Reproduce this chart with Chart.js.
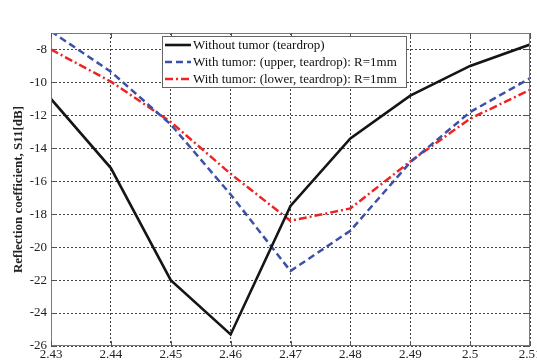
<!DOCTYPE html>
<html>
<head>
<meta charset="utf-8">
<script src="https://cdn.jsdelivr.net/npm/chart.js@4/dist/chart.umd.min.js"></script>
<style>
  html, body { margin: 0; padding: 0; background: #fff; }
  #wrap { width: 537px; height: 360px; overflow: hidden; position: relative; }
  #wrap canvas { position: absolute; left: 0; top: 0; }
</style>
</head>
<body>
<div id="wrap"><canvas id="chart" width="548" height="368"></canvas></div>
<script>
// frequency (GHz)
const freqs = [2.43, 2.44, 2.45, 2.46, 2.47, 2.48, 2.49, 2.50, 2.51];
const xTickLabels = ['2.43', '2.44', '2.45', '2.46', '2.47', '2.48', '2.49', '2.5', '2.51'];
const yTicks = [-26, -24, -22, -20, -18, -16, -14, -12, -10, -8];

// S11 [dB]
const noTumor = [-11.0, -15.2, -22.0, -25.3, -17.5, -13.4, -10.8, -9.0, -7.7];
const upperTumor = [-6.9, -9.35, -12.55, -16.8, -21.45, -19.0, -14.85, -11.8, -9.75];
const lowerTumor = [-8.0, -9.95, -12.4, -15.55, -18.4, -17.65, -14.8, -12.2, -10.45];

const seriesNames = [
  'Without tumor (teardrop)',
  'With tumor: (upper, teardrop): R=1mm',
  'With tumor: (lower, teardrop): R=1mm'
];

const serif = '"Liberation Serif", "Times New Roman", serif';

const toPts = arr => arr.map((v, i) => ({ x: freqs[i], y: v }));

// box, inner ticks and legend like the matlab figure
const framePlugin = {
  id: 'frame',
  afterDatasetsDraw(chart) {
    const { ctx, chartArea: a, scales } = chart;
    ctx.save();
    ctx.strokeStyle = '#7a7a7a';
    ctx.lineWidth = 1;
    ctx.setLineDash([]);
    ctx.strokeRect(a.left + 0.5, a.top + 0.5, a.right - a.left - 1, a.bottom - a.top - 1);
    ctx.strokeStyle = '#555';
    ctx.beginPath();
    freqs.forEach(f => {
      const x = Math.round(scales.x.getPixelForValue(f)) + 0.5;
      ctx.moveTo(x, a.bottom); ctx.lineTo(x, a.bottom - 5);
      ctx.moveTo(x, a.top); ctx.lineTo(x, a.top + 5);
    });
    yTicks.forEach(v => {
      const y = Math.round(scales.y.getPixelForValue(v)) + 0.5;
      ctx.moveTo(a.left, y); ctx.lineTo(a.left + 5, y);
      ctx.moveTo(a.right, y); ctx.lineTo(a.right - 5, y);
    });
    ctx.stroke();

    // legend
    const bx = 162, by = 36, bw = 244, bh = 51;
    ctx.fillStyle = '#fff';
    ctx.fillRect(bx, by, bw, bh);
    ctx.strokeStyle = '#666';
    ctx.strokeRect(bx + 0.5, by + 0.5, bw, bh);
    ctx.font = '13px ' + serif;
    ctx.textBaseline = 'middle';
    chart.data.datasets.forEach((ds, i) => {
      const y = by + 9 + i * 17;
      ctx.strokeStyle = ds.borderColor;
      ctx.lineWidth = ds.borderWidth;
      ctx.setLineDash(ds.borderDash || []);
      ctx.beginPath();
      ctx.moveTo(bx + 3, y); ctx.lineTo(bx + 29, y);
      ctx.stroke();
      ctx.fillStyle = '#111';
      ctx.fillText(ds.label, bx + 31, y + 1);
    });
    ctx.restore();
  }
};

const gridOpts = { color: '#444', drawTicks: false, lineWidth: 1, dash: [2, 2], borderDash: [2, 2] };

new Chart(document.getElementById('chart'), {
  type: 'line',
  data: {
    datasets: [
      { label: seriesNames[0], data: toPts(noTumor), borderColor: '#151515', borderWidth: 2.6 },
      { label: seriesNames[1], data: toPts(upperTumor), borderColor: '#3b50a8', borderWidth: 2.5, borderDash: [7, 4] },
      { label: seriesNames[2], data: toPts(lowerTumor), borderColor: '#ee2424', borderWidth: 2.5, borderDash: [8, 3, 2, 3] }
    ]
  },
  options: {
    responsive: false,
    animation: false,
    events: [],
    layout: { padding: { top: 33, right: 18, left: 0, bottom: 0 } },
    elements: { point: { radius: 0 }, line: { tension: 0 } },
    plugins: { legend: { display: false }, tooltip: { enabled: false } },
    scales: {
      x: {
        type: 'linear',
        min: 2.43,
        max: 2.51,
        afterBuildTicks: s => { s.ticks = freqs.map(v => ({ value: v })); },
        afterFit: s => { s.height = 22; },
        ticks: {
          autoSkip: false,
          maxRotation: 0,
          padding: 1,
          color: '#222',
          font: { family: serif, size: 13 },
          callback: (v, i) => xTickLabels[i]
        },
        grid: gridOpts,
        border: { display: false, dash: [2, 2] }
      },
      y: {
        type: 'linear',
        min: -26,
        max: -7,
        afterBuildTicks: s => { s.ticks = yTicks.map(v => ({ value: v })); },
        afterFit: s => { s.width = 51; },
        ticks: {
          padding: 4,
          color: '#222',
          font: { family: serif, size: 13 },
          callback: v => String(v)
        },
        grid: gridOpts,
        border: { display: false, dash: [2, 2] },
        title: {
          display: true,
          text: 'Reflection coefficient, S11[dB]',
          color: '#222',
          font: { family: serif, size: 13, weight: 'bold' },
          padding: { top: 11, bottom: 0 }
        }
      }
    }
  },
  plugins: [framePlugin]
});
</script>
</body>
</html>
